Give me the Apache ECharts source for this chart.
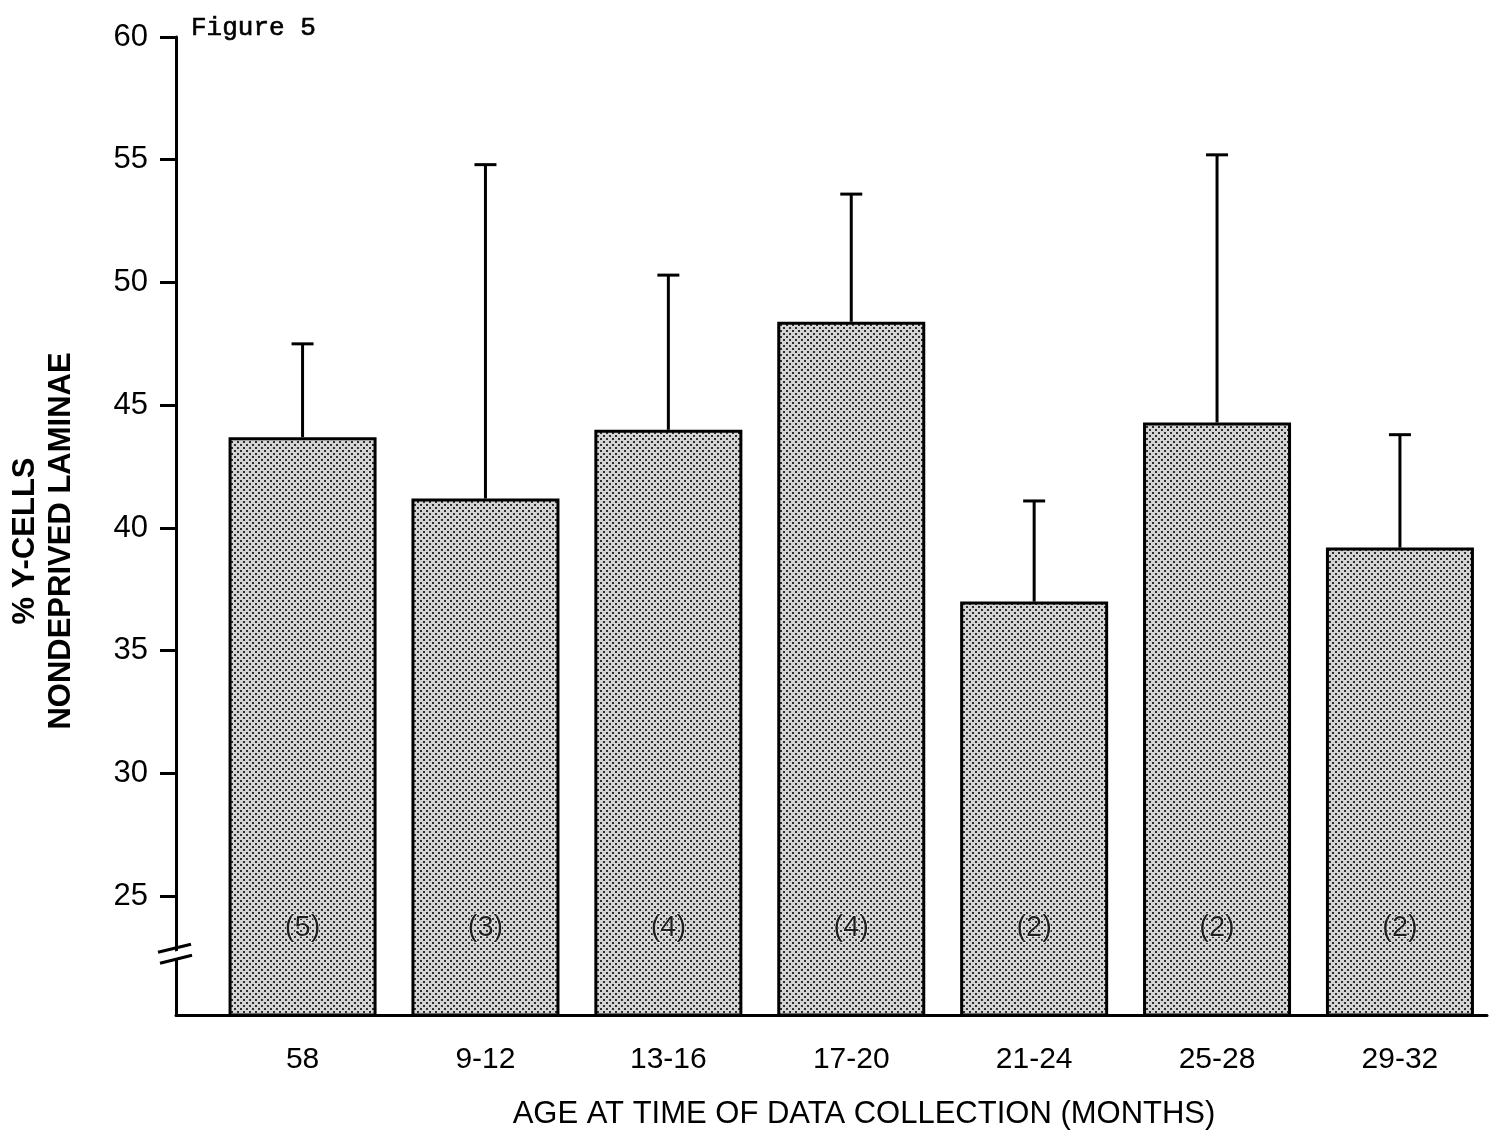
<!DOCTYPE html>
<html>
<head>
<meta charset="utf-8">
<title>Figure 5</title>
<script src="https://cdn.jsdelivr.net/npm/echarts@6/dist/echarts.min.js"></script>
<style>
  html, body { margin: 0; padding: 0; background: #fff; }
  #chart { width: 1489px; height: 1142px; }
</style>
</head>
<body>
<div id="chart"></div>
<script>
// Age groups (months) and the mean % Y-cells in the nondeprived laminae
const categories = ['58', '9-12', '13-16', '17-20', '21-24', '25-28', '29-32'];
const meanValues = [43.7, 41.2, 44.0, 48.4, 37.0, 44.3, 39.2];
// Top of the (upper-only) error bar for each group
const upperValues = [47.5, 54.8, 50.3, 53.6, 41.1, 55.2, 43.8];
// Number of animals per group, printed inside each bar
const sampleSizes = [5, 3, 4, 4, 2, 2, 2];
// Y tick labels
const yTickValues = [25, 30, 35, 40, 45, 50, 55, 60];
const categoryIndex = categories.map((c, i) => i);

const Y_MIN = 20.16;
const Y_MAX = 60;
const BREAK_VALUE = 22.8;

// Stippled grey fill for the bars
function stipplePattern() {
  const c = document.createElement('canvas');
  c.width = 6; c.height = 6;
  const g = c.getContext('2d');
  g.fillStyle = '#d4d4d4';
  g.fillRect(0, 0, 6, 6);
  g.fillStyle = '#2e2e2e';
  g.fillRect(0, 0, 2, 2);
  g.fillRect(3, 3, 2, 2);
  return c;
}

const chart = echarts.init(document.getElementById('chart'), null, { renderer: 'canvas' });

const FONT = '"Liberation Sans", Arial, Helvetica, sans-serif';

const option = {
  backgroundColor: '#ffffff',
  animation: false,
  grid: { left: 176, right: 2, top: 37, bottom: 127, containLabel: false },
  xAxis: {
    type: 'value',
    min: -0.692,
    max: 6.476,
    splitLine: { show: false },
    axisTick: { show: false },
    axisLine: { show: true, onZero: false, lineStyle: { color: '#000', width: 3 } },
    axisLabel: {
      customValues: categoryIndex,
      formatter: v => categories[Math.round(v)],
      color: '#000',
      fontFamily: FONT,
      fontSize: 30,
      margin: 30
    }
  },
  yAxis: {
    type: 'value',
    min: Y_MIN,
    max: Y_MAX,
    splitLine: { show: false },
    axisLine: { show: true, onZero: false, lineStyle: { color: '#000', width: 3 } },
    axisTick: {
      show: true,
      customValues: yTickValues,
      length: 16,
      lineStyle: { color: '#000', width: 3 }
    },
    axisLabel: {
      customValues: yTickValues,
      color: '#000',
      fontFamily: FONT,
      fontSize: 31,
      margin: 28
    }
  },
  series: [
    {
      type: 'bar',
      barWidth: 148,
      clip: true,
      data: meanValues.map((v, i) => [i, v]),
      itemStyle: {
        color: { image: stipplePattern(), repetition: 'repeat' },
        borderColor: '#000',
        borderWidth: 3
      }
    },
    {
      type: 'custom',
      data: upperValues.map((u, i) => [i, meanValues[i], u, sampleSizes[i]]),
      encode: { x: 0, y: [1, 2] },
      z: 5,
      renderItem: function (params, api) {
        const x = api.value(0);
        const base = api.coord([x, api.value(1)]);
        const top = api.coord([x, api.value(2)]);
        const floor = api.coord([x, Y_MIN]);
        const half = 11;
        const stroke = { stroke: '#000', lineWidth: 3 };
        return {
          type: 'group',
          children: [
            { type: 'line', shape: { x1: base[0], y1: base[1], x2: top[0], y2: top[1] }, style: stroke },
            { type: 'line', shape: { x1: top[0] - half, y1: top[1], x2: top[0] + half, y2: top[1] }, style: stroke },
            {
              type: 'text',
              x: floor[0],
              y: floor[1] - 87,
              style: {
                text: '(' + api.value(3) + ')',
                fill: '#1e1e1e',
                font: '29px ' + FONT,
                align: 'center',
                verticalAlign: 'middle',
                stroke: '#fff',
                lineWidth: 1
              }
            }
          ]
        };
      }
    }
  ]
};

chart.setOption(option);

// Axis break mark, titles and figure label
const axisX = chart.convertToPixel({ xAxisIndex: 0 }, -0.692);
const breakY = chart.convertToPixel({ yAxisIndex: 0 }, BREAK_VALUE);

chart.setOption({
  graphic: [
    {
      type: 'polygon',
      z: 100,
      shape: { points: [[axisX - 4, breakY + 2], [axisX + 4, breakY], [axisX + 4, breakY + 7], [axisX - 4, breakY + 9]] },
      style: { fill: '#fff' }
    },
    {
      type: 'line', z: 101,
      shape: { x1: axisX - 18, y1: breakY + 2, x2: axisX + 15, y2: breakY - 6 },
      style: { stroke: '#000', lineWidth: 3 }
    },
    {
      type: 'line', z: 101,
      shape: { x1: axisX - 16, y1: breakY + 13, x2: axisX + 16, y2: breakY + 5 },
      style: { stroke: '#000', lineWidth: 3 }
    },
    {
      type: 'text',
      x: 43, y: 541,
      rotation: Math.PI / 2,
      style: {
        text: '% Y-CELLS\nNONDEPRIVED LAMINAE',
        font: 'bold 31px ' + FONT,
        fill: '#000',
        align: 'center',
        verticalAlign: 'middle',
        lineHeight: 36
      }
    },
    {
      type: 'text',
      x: 864, y: 1114,
      style: {
        text: 'AGE AT TIME OF DATA COLLECTION (MONTHS)',
        font: '31px ' + FONT,
        fill: '#000',
        align: 'center',
        verticalAlign: 'middle'
      }
    },
    {
      type: 'text',
      x: 191, y: 28,
      style: {
        text: 'Figure 5',
        font: '26px "Liberation Mono", "Courier New", monospace',
        fill: '#000',
        stroke: '#000',
        lineWidth: 0.6,
        align: 'left',
        verticalAlign: 'middle'
      }
    }
  ]
});
</script>
</body>
</html>
